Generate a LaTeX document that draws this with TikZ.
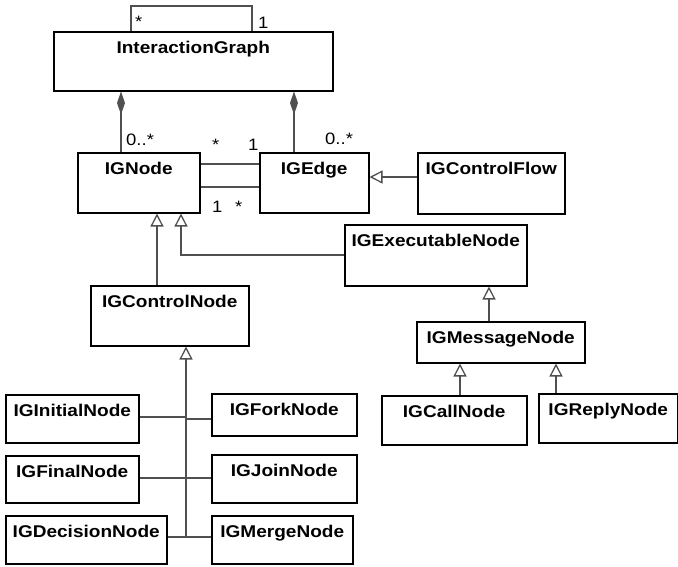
\documentclass[tikz,border=0pt]{standalone}
\usepackage{fontspec}
\setmainfont{Liberation Sans}[FakeStretch=1.12]
\usetikzlibrary{arrows.meta}
\definecolor{linegray}{HTML}{505050}
\tikzset{
  cls/.style={draw=black, line width=1.5pt, fill=white, anchor=north west, inner sep=0pt},
  clsname/.style={anchor=base, font=\fontsize{17}{20}\selectfont\bfseries, inner sep=0pt},
  conn/.style={draw=linegray, line width=1.5pt},
  gen/.style={conn, -{Triangle[open, length=13pt, width=13pt, line width=1.3pt, fill=white]}},
  comp/.style={conn, -{Diamond[length=23pt, width=8pt, fill=linegray]}},
  mult/.style={anchor=base west, font=\fontsize{16.5}{19}\selectfont, inner sep=0pt},
}
% \umlclass{name}{x}{y}{width}{height}{label}
\newcommand\umlclass[6]{%
  \node[cls, minimum width=#4pt, minimum height=#5pt] (#1) at (#2,#3) {};
  \node[clsname] (#1-name) at ([yshift=-22.5pt]#1.north) {#6};
}
\begin{document}
\begin{tikzpicture}[x=1pt, y=-1pt]
\useasboundingbox (0,0) rectangle (678,566);

% classes
\umlclass{IG}{53}{31}{279}{59}{InteractionGraph}
\umlclass{IGNode}{77}{152}{122}{60}{IGNode}
\umlclass{IGEdge}{259}{152}{109}{60}{IGEdge}
\umlclass{IGControlFlow}{417}{152}{147}{61}{IGControlFlow}
\umlclass{IGExecutableNode}{344}{224}{182}{61}{IGExecutableNode}
\umlclass{IGControlNode}{90}{285}{158}{60}{IGControlNode}
\umlclass{IGMessageNode}{416}{321}{168}{41}{IGMessageNode}
\umlclass{IGCallNode}{381}{395}{145}{49}{IGCallNode}
\umlclass{IGReplyNode}{538}{393}{139}{49}{IGReplyNode}
\umlclass{IGInitialNode}{5}{394}{133}{48}{IGInitialNode}
\umlclass{IGForkNode}{211}{393}{145}{42}{IGForkNode}
\umlclass{IGFinalNode}{5}{455}{133}{47}{IGFinalNode}
\umlclass{IGJoinNode}{211}{454}{145}{48}{IGJoinNode}
\umlclass{IGDecisionNode}{5}{515}{161}{48}{IGDecisionNode}
\umlclass{IGMergeNode}{211}{515}{141}{48}{IGMergeNode}

% self association of the graph
\draw[conn] (IG.north -| 131,0) -- ++(0,-25) -| (IG.north -| 252,0);
\node[mult] (m-self-a) at (135,27) {*};
\node[mult] (m-self-b) at (258,28) {1};

% compositions
\draw[comp] (IGNode.north -| 121,0) -- (IG.south -| 121,0);
\draw[comp] (IGEdge.north -| 294,0) -- (IG.south -| 294,0);
\node[mult] (m-nodes) at (126,145) {0..*};
\node[mult] (m-edges) at (325,144) {0..*};

% node/edge associations
\draw[conn] (IGNode.east |- 0,164) -- (IGEdge.west |- 0,164);
\draw[conn] (IGNode.east |- 0,187) -- (IGEdge.west |- 0,187);
\node[mult] (m-src-a) at (212,150) {*};
\node[mult] (m-src-b) at (248,150) {1};
\node[mult] (m-tgt-a) at (212,212) {1};
\node[mult] (m-tgt-b) at (235,212) {*};

% generalizations
\draw[gen] (IGControlFlow.west |- 0,177) -- (IGEdge.east |- 0,177);
\draw[gen] (IGControlNode.north -| 157,0) -- (IGNode.south -| 157,0);
\draw[gen] (IGExecutableNode.west |- 0,255) -| (IGNode.south -| 181,0);
\draw[gen] (IGMessageNode.north -| 489,0) -- (IGExecutableNode.south -| 489,0);
\draw[gen] (IGCallNode.north -| 460,0) -- (IGMessageNode.south -| 460,0);
\draw[gen] (IGReplyNode.north -| 556,0) -- (IGMessageNode.south -| 556,0);

% control node hierarchy
\coordinate (trunk) at (186,537);
\draw[gen] (trunk) -- (IGControlNode.south -| trunk);
\draw[conn] (IGInitialNode.east |- 0,417) -- (trunk |- 0,417);
\draw[conn] (IGForkNode.west |- 0,419) -- (trunk |- 0,419);
\draw[conn] (IGFinalNode.east |- 0,478) -- (IGJoinNode.west |- 0,478);
\draw[conn] (IGDecisionNode.east |- 0,537) -- (IGMergeNode.west |- 0,537);
\end{tikzpicture}
\end{document}
